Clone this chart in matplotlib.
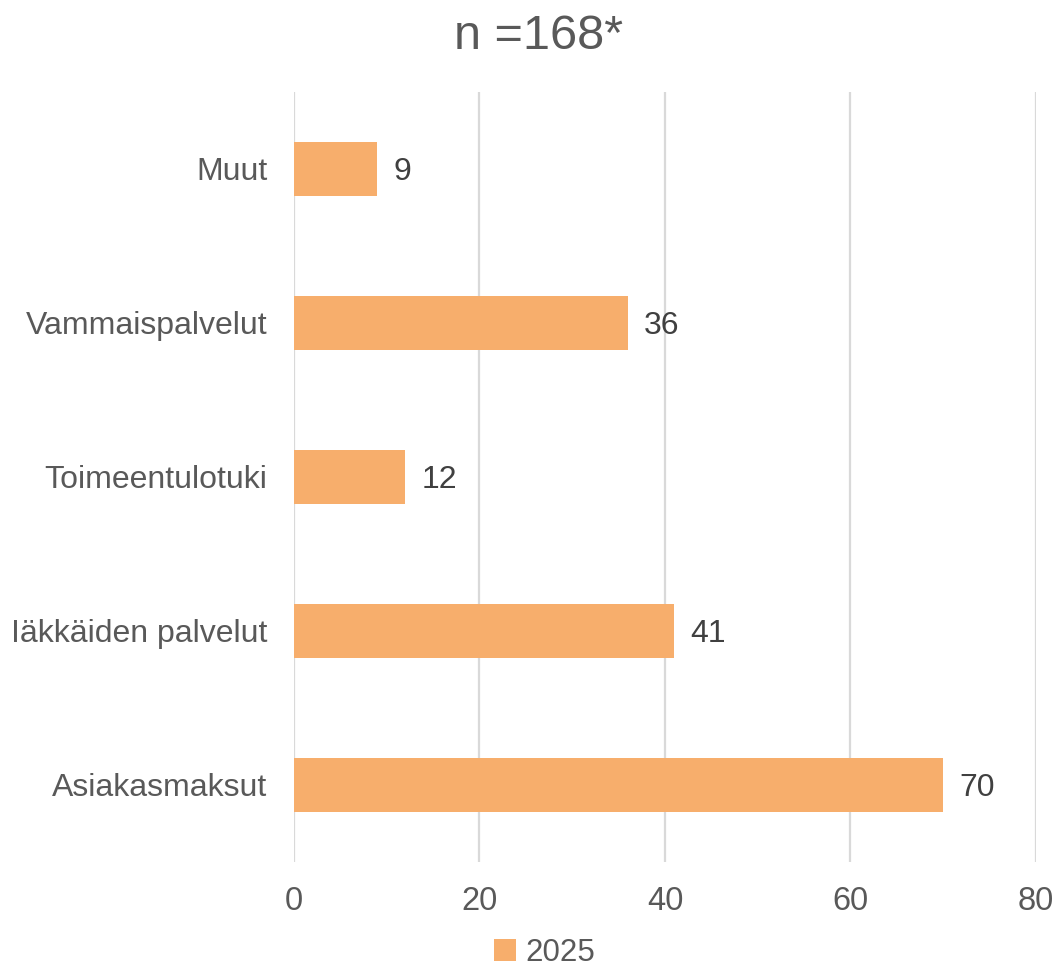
import matplotlib
matplotlib.use("Agg")
import matplotlib.pyplot as plt
from matplotlib.patches import Patch

categories = ["Asiakasmaksut", "Iäkkäiden palvelut", "Toimeentulotuki", "Vammaispalvelut", "Muut"]
values = [70, 41, 12, 36, 9]
series_name = "2025"
title = "n =168*"
xticks = [0, 20, 40, 60, 80]

plt.rcParams['font.family'] = ['Liberation Sans', 'DejaVu Sans']
bar_color = "#F7AE6C"
text_color = "#595959"
grid_color = "#D9D9D9"

fig = plt.figure(figsize=(10.56, 9.71), dpi=100)
ax = fig.add_axes([0.2784, 0.1123, 0.7026, 0.793])

ypos = list(range(len(categories)))
bars = ax.barh(ypos, values, height=0.35, color=bar_color, zorder=3)
for y, v in zip(ypos, values):
    ax.annotate(str(v), xy=(v, y), xytext=(11.5, -2), textcoords="offset points",
                ha="left", va="center", fontsize=23, color="#404040")

ax.set_xlim(0, 80)
ax.set_ylim(-0.5, len(categories) - 0.5)
ax.set_xticks(xticks)
ax.set_xticklabels([str(t) for t in xticks])
ax.set_yticks(ypos)
ax.set_yticklabels(categories)
ax.tick_params(axis='x', length=0, pad=17, labelsize=23.5, labelcolor=text_color)
ax.tick_params(axis='y', length=0, pad=19, labelsize=23, labelcolor=text_color)
ax.xaxis.grid(True, color=grid_color, linewidth=1.6, zorder=0)
ax.yaxis.grid(False)
for s in ax.spines.values():
    s.set_visible(False)

fig.text(0.51, 0.962, title, ha="center", va="center", fontsize=35, color=text_color)

handles = [Patch(facecolor=bar_color, edgecolor='none', label=series_name)]
fig.legend(handles=handles, loc="center", bbox_to_anchor=(0.516, 0.019), frameon=False,
           fontsize=22.5, labelcolor=text_color, handlelength=0.7, handleheight=0.7,
           handletextpad=0.3, borderpad=0.1)

fig.savefig("out.png", dpi=100)
